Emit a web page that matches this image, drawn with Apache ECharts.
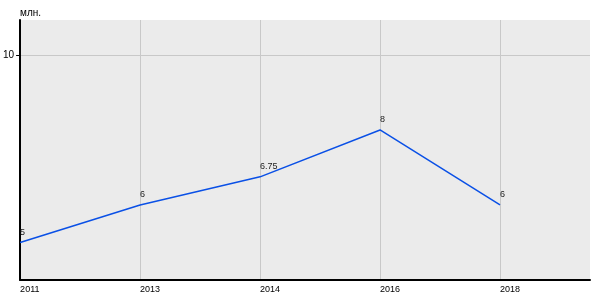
<!DOCTYPE html>
<html>
<head>
<meta charset="utf-8">
<script src="https://cdn.jsdelivr.net/npm/echarts@6/dist/echarts.min.js"></script>
<style>html,body{margin:0;padding:0;background:#fff}#c{width:600px;height:300px}</style>
</head>
<body>
<div id="c"></div>
<script>
var years = ['2011', '2013', '2014', '2016', '2018'];
var values = [5, 6, 6.75, 8, 6];
var yTicks = [10];
var unit = 'млн.';

var chart = echarts.init(document.getElementById('c'), null, {renderer: 'canvas'});
var font = 'Liberation Sans, Arial, sans-serif';
chart.setOption({
  animation: false,
  backgroundColor: '#ffffff',
  grid: {left: 20, right: 10, top: 20, bottom: 20, show: true, backgroundColor: '#ebebeb', borderWidth: 0},
  xAxis: {
    type: 'value', min: 0, max: 4.75,
    axisLine: {show: true, onZero: false, lineStyle: {color: '#000', width: 2}},
    axisTick: {show: false, customValues: [0, 1, 2, 3, 4]},
    axisLabel: {customValues: [0, 1, 2, 3, 4], formatter: function (v) { return years[Math.round(v)] || ''; },
      align: 'left', color: '#000', fontSize: 9, fontFamily: font, margin: 5},
    splitLine: {show: true, lineStyle: {color: '#c8c8c8', width: 1}}
  },
  yAxis: {
    type: 'value', min: 4, max: 10.93,
    name: unit, nameLocation: 'end', nameGap: 7,
    nameTextStyle: {align: 'left', verticalAlign: 'middle', color: '#000', fontSize: 10, fontFamily: font},
    axisLine: {show: true, onZero: false, lineStyle: {color: '#000', width: 2}},
    axisTick: {show: true, length: 4, customValues: yTicks, lineStyle: {color: '#000'}},
    axisLabel: {customValues: yTicks, color: '#000', fontSize: 10, fontFamily: font, margin: 6},
    splitLine: {show: true, lineStyle: {color: '#c8c8c8', width: 1}}
  },
  series: [{
    type: 'line',
    data: values.map(function (v, i) { return [i, v]; }),
    symbol: 'circle', symbolSize: 1, showSymbol: true,
    itemStyle: {color: 'rgba(0,0,0,0)', borderWidth: 0},
    lineStyle: {color: '#0a50e6', width: 1.5},
    labelLayout: {hideOverlap: false},
    label: {show: true, position: 'top', align: 'left', distance: 5,
      formatter: function (p) { return String(p.value[1]); },
      color: '#222', fontSize: 9, fontFamily: font}
  }]
});
</script>
</body>
</html>
